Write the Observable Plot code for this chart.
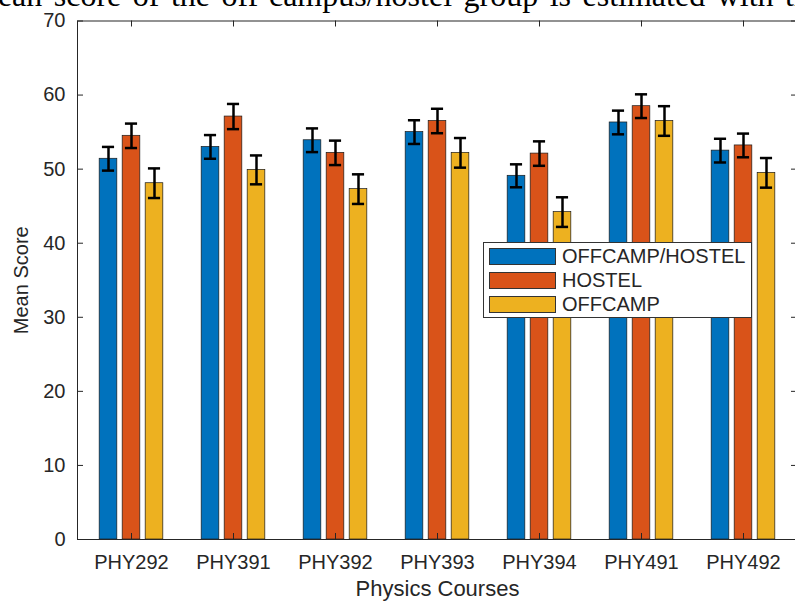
<!DOCTYPE html>
<html>
<head>
<meta charset="utf-8">
<script src="https://cdn.jsdelivr.net/npm/d3@7"></script>
<script src="https://cdn.jsdelivr.net/npm/@observablehq/plot@0.6"></script>
<style>
  html, body { margin: 0; padding: 0; background: #fff; overflow: hidden; width: 795px; height: 601px; }
  #wrap { position: relative; width: 795px; height: 601px; overflow: hidden; }
  #doc { position: absolute; left: -27px; top: -21px; font-family: "Liberation Serif", "Times New Roman", serif;
         font-size: 32px; line-height: 1; word-spacing: 3.5px; white-space: nowrap; color: #000; z-index: 2; }
  #chart { position: absolute; left: 0; top: 0; }
  #legend { position: absolute; left: 483px; top: 242px; width: 269px; height: 76px; box-sizing: border-box;
            border: 1px solid #333; background: #fff; z-index: 3; padding-top: 1px;
            font-family: "Liberation Sans", Arial, sans-serif; font-size: 20px; color: #262626; }
  #legend .row { height: 24px; display: flex; align-items: center; }
  #legend .sw { width: 67px; height: 17px; margin-left: 5px; box-sizing: border-box; border: 1px solid #333; }
  #legend .lb { margin-left: 6px; line-height: 1; }
</style>
</head>
<body>
<div id="wrap">
  <div id="doc">mean score of the off-campus/hostel group is estimated with the</div>
  <div id="chart"></div>
  <div id="legend"></div>
</div>
<script>
// ---- data ----
const courses = ["PHY292", "PHY391", "PHY392", "PHY393", "PHY394", "PHY491", "PHY492"];
const series = ["OFFCAMP/HOSTEL", "HOSTEL", "OFFCAMP"];
const offcampHostel = [51.4, 53.0, 53.9, 55.0, 49.1, 56.3, 52.5];
const hostel        = [54.5, 57.1, 52.2, 56.5, 52.1, 58.5, 53.2];
const offcamp       = [48.1, 49.9, 47.3, 52.2, 44.2, 56.5, 49.5];
const offcampHostelErr = [1.6, 1.6, 1.6, 1.6, 1.55, 1.6, 1.6];
const hostelErr        = [1.65, 1.7, 1.65, 1.65, 1.65, 1.6, 1.6];
const offcampErr       = [2.0, 1.95, 2.0, 2.0, 2.0, 2.0, 2.0];
const yTicks = [0, 10, 20, 30, 40, 50, 60, 70];
const colors = ["#0072BD", "#D95319", "#EDB120"];

// ---- layout ----
const W = 797, H = 601;
const mL = 77, mR = 0, mT = 20.5, mB = 62;
const frameW = W - mL - mR, frameH = H - mT - mB;
const band = frameW / courses.length;
const barStep = 23, barW = 18.5, capW = 13, tickLen = 6;
const offsets = [-barStep, 0, barStep];

const values = [offcampHostel, hostel, offcamp];
const errs = [offcampHostelErr, hostelErr, offcampErr];

const marks = [];
series.forEach((s, j) => {
  const d = courses.map((c, i) => ({course: c, series: s, value: values[j][i], err: errs[j][i]}));
  marks.push(Plot.barY(d, {x: "course", y: "value", fill: colors[j], stroke: "#1a1a1a", strokeWidth: 0.7,
    insetLeft: (band - barW) / 2, insetRight: (band - barW) / 2, dx: offsets[j]}));
});
series.forEach((s, j) => {
  const d = courses.map((c, i) => ({course: c, value: values[j][i], err: errs[j][i]}));
  marks.push(Plot.ruleX(d, {x: "course", y1: r => r.value - r.err, y2: r => r.value + r.err,
    stroke: "#000", strokeWidth: 2.5, dx: offsets[j]}));
  marks.push(Plot.tickY(d, {x: "course", y: r => r.value + r.err, stroke: "#000", strokeWidth: 2.5,
    insetLeft: (band - capW) / 2, insetRight: (band - capW) / 2, dx: offsets[j]}));
  marks.push(Plot.tickY(d, {x: "course", y: r => r.value - r.err, stroke: "#000", strokeWidth: 2.5,
    insetLeft: (band - capW) / 2, insetRight: (band - capW) / 2, dx: offsets[j]}));
});

const axisColor = "#262626";
marks.push(
  Plot.frame({stroke: axisColor, strokeWidth: 1}),
  Plot.tickY(yTicks, {y: d => d, insetRight: frameW - tickLen, stroke: axisColor}),
  Plot.tickY(yTicks, {y: d => d, insetLeft: frameW - tickLen, stroke: axisColor}),
  Plot.tickX(courses, {x: d => d, insetTop: frameH - tickLen, stroke: axisColor}),
  Plot.tickX(courses, {x: d => d, insetBottom: frameH - tickLen, stroke: axisColor}),
  Plot.axisY(yTicks, {tickSize: 0, tickPadding: 12, fontSize: 20, label: null, fill: axisColor}),
  Plot.axisX({tickSize: 0, tickPadding: 15, fontSize: 20, label: null, fill: axisColor}),
  Plot.text(["Mean Score"], {text: d => d, frameAnchor: "left", textAnchor: "middle", lineAnchor: "middle",
    dx: -56, rotate: -90, fontSize: 20, fill: axisColor}),
  Plot.text(["Physics Courses"], {text: d => d, frameAnchor: "bottom", textAnchor: "middle", lineAnchor: "middle",
    dy: 49, fontSize: 22, fill: axisColor})
);

const chart = Plot.plot({
  width: W, height: H,
  marginLeft: mL, marginRight: mR, marginTop: mT, marginBottom: mB,
  style: {fontFamily: '"Liberation Sans", Arial, sans-serif', fontSize: "20px", maxWidth: "none", background: "transparent", color: axisColor},
  x: {domain: courses, padding: 0, axis: null},
  y: {domain: [0, 70], axis: null},
  marks
});
document.getElementById("chart").appendChild(chart);

// legend
const lg = document.getElementById("legend");
series.forEach((s, j) => {
  const row = document.createElement("div");
  row.className = "row";
  const sw = document.createElement("div");
  sw.className = "sw";
  sw.style.background = colors[j];
  const lb = document.createElement("span");
  lb.className = "lb";
  lb.textContent = s;
  row.appendChild(sw); row.appendChild(lb);
  lg.appendChild(row);
});
</script>
</body>
</html>
